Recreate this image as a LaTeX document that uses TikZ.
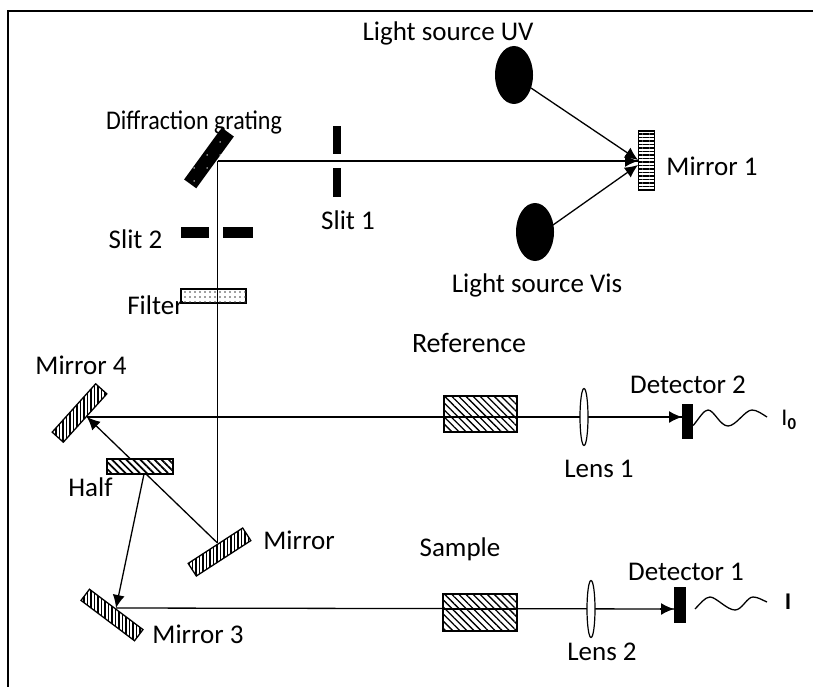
\documentclass[tikz,border=0pt]{standalone}
\usepackage{fontspec}
\usepackage{graphicx}
\setmainfont{Carlito}
\usetikzlibrary{patterns,patterns.meta,arrows.meta,shapes.geometric}
\tikzset{
  lbl/.style={inner sep=0pt,font=\fontsize{27}{30}\selectfont},
  ray/.style={draw=black,line width=1.3pt},
  rayarrow/.style={ray,-{Latex[length=13pt,width=12pt]}},
  mirrorbox/.style={draw=black,line width=1.3pt,minimum width=65pt,minimum height=15pt,inner sep=0pt,fill=white,
    postaction={pattern={Lines[angle=90,distance=3.5pt,line width=1.6pt]},pattern color=black}},
  cellbox/.style={draw=black,line width=1.3pt,inner sep=0pt,fill=white,
    postaction={pattern={Lines[angle=-45,distance=5pt,line width=1.3pt]},pattern color=black}},
  solid block/.style={fill=black,draw=none,inner sep=0pt},
  lensshape/.style={ellipse,draw=black,line width=1.2pt,fill=white,inner sep=0pt,minimum width=8pt,minimum height=57pt},
  lamp/.style={ellipse,fill=black,inner sep=0pt,minimum width=38pt,minimum height=58pt},
  wave/.style={draw=black,line width=1.3pt},
}
\begin{document}
\begin{tikzpicture}[x=1pt,y=-1pt]
\useasboundingbox (0,0) rectangle (813,687);
\fill[white] (0,0) rectangle (813,687);
\coordinate (frameTL) at (8,11);
\coordinate (frameTR) at (813,11);
\coordinate (frameBL) at (8,687);
\draw[line width=1.3pt] (frameBL) -- (frameTL) -- (frameTR);

% hit points
\coordinate (hitGrating) at (217.5,161);
\coordinate (hitM1) at (638,161);
\coordinate (hitM1a) at (638,160);
\coordinate (hitM1b) at (638,165);
\coordinate (hitMirror) at (217.5,543);
\coordinate (hitM4) at (87,417);
\coordinate (hitM3) at (116,608);
\coordinate (hitHalf) at (144,474);
\coordinate (refEnd) at (682,417);
\coordinate (samEnd) at (674,609);

% rays (under the elements)
\draw[ray] (hitGrating) -- (hitMirror);
\draw[ray] (hitM3) -- (samEnd);
\draw[ray] (hitM4) -- (refEnd);
\draw[ray] (hitGrating) -- (hitM1);

% elements
\node[solid block,minimum width=64pt,minimum height=15pt,rotate=54,
  postaction={pattern={Dots[distance=13pt,radius=0.8pt]},pattern color=white}] (grating) at (209,158) {};
\node[solid block,minimum width=8pt,minimum height=28pt] (slitOneA) at (337,140) {};
\node[solid block,minimum width=8pt,minimum height=29pt] (slitOneB) at (337,182.5) {};
\node[solid block,minimum width=28pt,minimum height=11pt] (slitTwoA) at (195,232) {};
\node[solid block,minimum width=30pt,minimum height=11pt] (slitTwoB) at (238,232) {};
\node[draw=black,line width=1.2pt,inner sep=0pt,minimum width=65pt,minimum height=14pt,fill=white,
  postaction={pattern={Dots[distance=5pt,radius=0.9pt]},pattern color=black!75}] (filter) at (213.5,296) {};
\node[lamp] (uv) at (514,75) {};
\node[lamp] (vis) at (535,232) {};
\node[draw=black,line width=1.3pt,inner sep=0pt,minimum width=16pt,minimum height=59pt,fill=white,
  postaction={pattern={Lines[angle=0,distance=3.5pt,line width=1.7pt]},pattern color=black}] (mOne) at (646.5,160.5) {};
\node[mirrorbox,rotate=48] (mFour) at (79.5,413) {};
\node[mirrorbox,rotate=33] (mMirror) at (219.5,552) {};
\node[mirrorbox,rotate=-37,minimum width=67pt,minimum height=14pt] (mThree) at (112,615) {};
\node[cellbox,minimum width=73pt,minimum height=36pt] (refCell) at (480.5,414) {};
\node[cellbox,minimum width=74pt,minimum height=37pt] (samCell) at (480,612.5) {};
\node[lensshape] (lensOne) at (584,417) {};
\node[lensshape] (lensTwo) at (591,609) {};
\node[solid block,minimum width=11pt,minimum height=35pt] (detTwo) at (687.5,421.5) {};
\node[solid block,minimum width=12pt,minimum height=36pt] (detOne) at (680,605) {};

% rays drawn again over the hatching
\draw[ray] (refCell.west |- refEnd) -- (refCell.east |- refEnd);
\draw[ray] (samCell.west |- samEnd) -- (samCell.east |- samEnd);
\draw[ray] (hitGrating |- filter.north) -- (hitGrating |- filter.south);

% arrows
\draw[rayarrow] (hitM1) ++(-14,0) -- (hitM1);
\draw[rayarrow] (uv) ++(17,13) -- (hitM1a);
\draw[rayarrow] (vis) ++(18,-7) -- (hitM1b);
\draw[rayarrow] (hitMirror) -- (hitM4);
\draw[rayarrow] (hitHalf) -- (hitM3);
\draw[rayarrow] (refEnd) ++(-14,0) -- (refEnd);
\draw[rayarrow] (samEnd) ++(-14,0) -- (samEnd);
\node[draw=black,line width=1.3pt,inner sep=0pt,fill=white,minimum width=66pt,minimum height=15pt,
  postaction={pattern={Lines[angle=-45,distance=5pt,line width=1.7pt]},pattern color=black}] (half) at (140,466.5) {};

% detector output waves
\coordinate (waveTwoEnd) at (767,417);
\coordinate (waveOneStart) at (695,609);
\coordinate (waveOneEnd) at (767,602);
\draw[wave] (detTwo.east) ++(0,4) .. controls (700,417) and (704,410) .. (708,410)
  .. controls (714,410) and (720,426) .. (728,426)
  .. controls (736,426) and (745,410) .. (752,410)
  .. controls (757,410) and (762,414) .. (waveTwoEnd);
\draw[wave] (waveOneStart) .. controls (700,604) and (705,597) .. (710,597)
  .. controls (716,597) and (727,610) .. (735,610)
  .. controls (742,610) and (747,597) .. (753,597)
  .. controls (758,597) and (762,600) .. (waveOneEnd);

% labels
\node[lbl] (tUV) at (448,33) {Light source UV};
\node[lbl] (tGrating) at (194,122) {\scalebox{0.89}[1]{Diffraction grating}};
\node[lbl] (tSlitOne) at (348,220) {Slit 1};
\node[lbl] (tSlitTwo) at (135.5,239) {Slit 2};
\node[lbl] (tFilter) at (155.5,305) {Filter};
\node[lbl] (tMOne) at (712,166) {Mirror 1};
\node[lbl] (tVis) at (537,285) {Light source Vis};
\node[lbl,font=\fontsize{28}{30}\selectfont] (tRef) at (469,343) {Reference};
\node[lbl] (tMFour) at (81,365) {Mirror 4};
\node[lbl] (tHalf) at (90.5,487) {Half};
\node[lbl] (tMirror) at (299,540) {Mirror};
\node[lbl] (tMThree) at (198,634) {Mirror 3};
\node[lbl] (tSample) at (460,549) {Sample};
\node[lbl] (tLensOne) at (599,469) {Lens 1};
\node[lbl] (tLensTwo) at (602,652) {Lens 2};
\node[lbl] (tDetTwo) at (688,385) {Detector 2};
\node[lbl] (tDetOne) at (686,572) {Detector 1};
\node[lbl,font=\fontsize{24}{27}\selectfont] (tIzero) at (789,420) {I\textsubscript{\bfseries 0}};
\node[lbl,font=\fontsize{24}{27}\selectfont\bfseries] (tI) at (788,602) {I};
\end{tikzpicture}
\end{document}
